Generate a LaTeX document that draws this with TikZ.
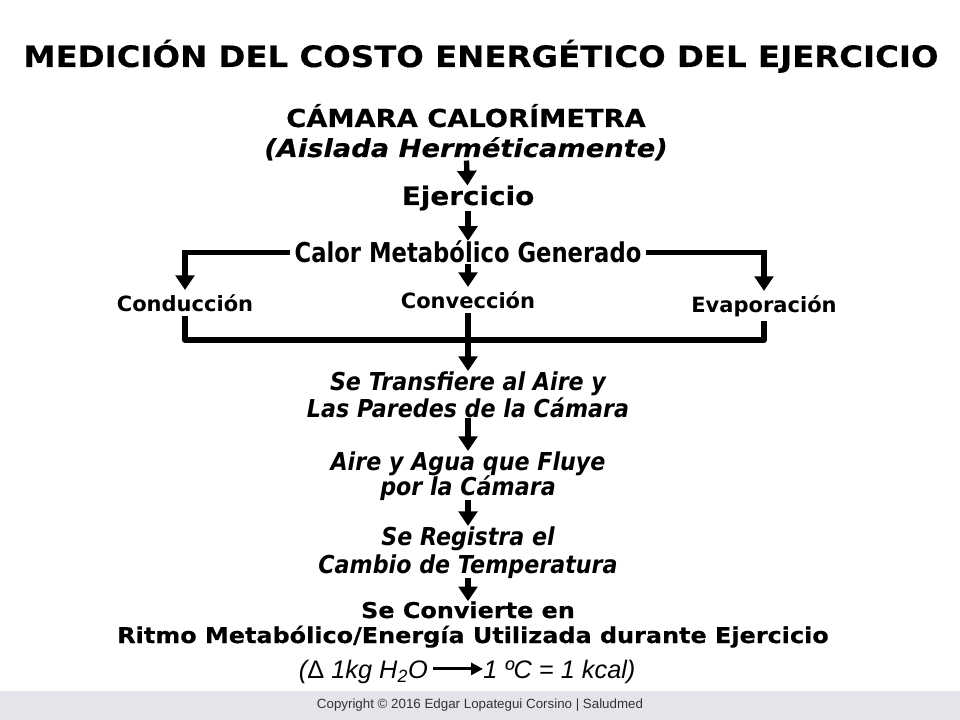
\documentclass[tikz,border=0pt]{standalone}
\usepackage{fontspec}
\setmainfont{Liberation Sans}
\newfontfamily\verdfont[FakeStretch=1.1,FakeBold=0.4]{DejaVu Sans Bold}
\newfontfamily\verditfont[FakeStretch=1.1,FakeBold=0.4]{DejaVu Sans Bold Oblique}
\newfontfamily\tahfont{DejaVu Sans Bold}
\newfontfamily\narrowfont[FakeStretch=0.83]{DejaVu Sans Bold}
\newfontfamily\italfont[FakeStretch=0.9]{DejaVu Sans Bold Oblique}
\usetikzlibrary{arrows.meta}
\definecolor{footbg}{RGB}{228,228,235}

\begin{document}
\begin{tikzpicture}[x=0.75pt,y=-0.75pt,
  lbl/.style={anchor=base,inner sep=0pt},
  titlelbl/.style={lbl,font=\verdfont\fontsize{22.1}{26}\selectfont},
  headlbl/.style={lbl,font=\verdfont\fontsize{18.6}{22}\selectfont},
  ejerlbl/.style={lbl,font=\verdfont\fontsize{19}{22}\selectfont},
  calorlbl/.style={lbl,inner xsep=3pt,font=\narrowfont\fontsize{20.5}{24}\selectfont},
  modelbl/.style={lbl,inner ysep=3pt,font=\tahfont\fontsize{15.75}{19}\selectfont},
  steplbl/.style={lbl,font=\italfont\fontsize{18.5}{23}\selectfont},
  endlbl/.style={lbl,font=\verdfont\fontsize{16.3}{20}\selectfont},
  formlbl/.style={lbl,text height=13.6pt,text depth=0pt,font=\itshape\fontsize{19}{23}\selectfont},
  copylbl/.style={lbl,font=\fontsize{10}{12}\selectfont,text=black!80},
  link/.style={line width=4pt,-{Triangle[width=14pt,length=11pt]}},
  bracket/.style={line width=4.5pt,line join=round}
]
\useasboundingbox (0,0) rectangle (960,720);
\fill[footbg] (0,691) rectangle (960,720);

\node[titlelbl] (title) at (481,67) {MEDICIÓN DEL COSTO ENERGÉTICO DEL EJERCICIO};

% camara y ejercicio
\node[headlbl] (cam) at (466,127) {CÁMARA CALORÍMETRA};
\node[headlbl] (aisl) at (466,157) {\verditfont (Aislada Herméticamente)};
\node[ejerlbl] (ejer) at (468,205) {Ejercicio};
\node[calorlbl] (calor) at (468,263) {Calor Metabólico Generado};

% vias
\node[modelbl] (cond) at (185,311) {Conducción};
\node[modelbl] (conv) at (468,308) {Convección};
\node[modelbl] (evap) at (764,312) {Evaporación};
\coordinate (join) at (468,340);

% pasos
\foreach \nm/\yy/\txt in {tr1/390/Se Transfiere al Aire y, tr2/417/Las Paredes de la Cámara,
    ai1/470/Aire y Agua que Fluye, ai2/495/por la Cámara,
    re1/545/Se Registra el, re2/573/Cambio de Temperatura}{
  \node[steplbl] (\nm) at (468,\yy) {\txt};
}
\node[endlbl] (res1) at (468,618) {Se Convierte en};
\node[endlbl] (res2) at (473,643) {Ritmo Metabólico/Energía Utilizada durante Ejercicio};

\node[formlbl,anchor=base east] (fleft) at (428,678) {({\upshape Δ} 1kg H\textsubscript{2}O};
\node[formlbl,anchor=base west] (fright) at (483,678) {1 ºC = 1 kcal)};
\node[copylbl] (copy) at (480,708) {Copyright © 2016 Edgar Lopategui Corsino | Saludmed};

\draw[link] (aisl) -- (ejer);
\draw[link] (ejer) -- (calor);
\draw[link] (calor) -- (conv);
\draw[link] (calor.west) -| (cond.north);
\draw[link] (calor.east) -| (evap.north);
\draw[bracket] (cond.south) |- (join) -| (evap.south);
\draw[link] (conv) -- (tr1);
\draw[link] (tr2) -- (ai1);
\draw[link] (ai2) -- (re1);
\draw[link] (re2) -- (res1);
\draw[line width=2.2pt,-{Triangle[width=9pt,length=9pt]},shorten <=3.5pt] (fleft.east) -- (fright.west);
\end{tikzpicture}
\end{document}
